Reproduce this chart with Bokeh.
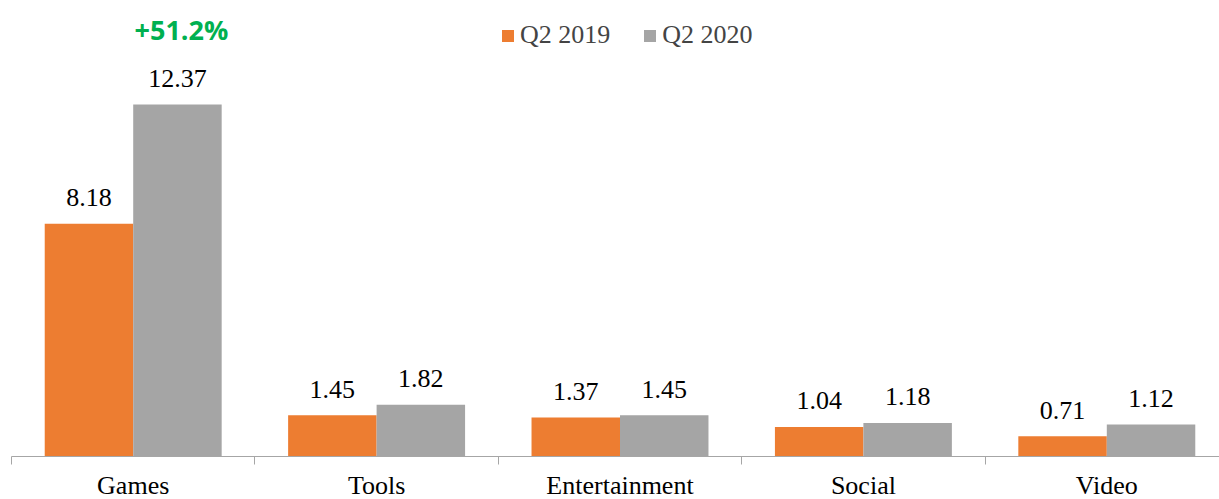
from bokeh.plotting import figure
from bokeh.models import Range1d, FixedTicker, Legend, LegendItem, ColumnDataSource, LinearAxis
from bokeh.core.properties import value
from bokeh.embed import file_html
from bokeh.resources import INLINE

categories = ["Games", "Tools", "Entertainment", "Social", "Video"]
q2_2019 = [8.18, 1.45, 1.37, 1.04, 0.71]
q2_2020 = [12.37, 1.82, 1.45, 1.18, 1.12]
series_names = ["Q2 2019", "Q2 2020"]
growth_label = "+51.2%"

BW = 0.3635
centers = [i + 0.5 for i in range(len(categories))]

p = figure(frame_width=1208, frame_height=448, output_backend="svg", toolbar_location=None,
           x_range=Range1d(0, 1208 / 243.4), y_range=Range1d(0, 448 / 28.46),
           min_border_left=11, min_border_right=0, min_border_top=8, min_border_bottom=0,
           x_axis_location=None, y_axis_location=None)
p.outline_line_color = None
p.grid.visible = False

src1 = ColumnDataSource(dict(x=[c - BW / 2 for c in centers], top=q2_2019, lab=[f"{v:.2f}" for v in q2_2019]))
src2 = ColumnDataSource(dict(x=[c + BW / 2 for c in centers], top=q2_2020, lab=[f"{v:.2f}" for v in q2_2020]))

r1 = p.vbar(x="x", top="top", width=BW, source=src1, fill_color="#ED7D31", line_color=None)
r2 = p.vbar(x="x", top="top", width=BW, source=src2, fill_color="#A5A5A5", line_color=None)

for s in (src1, src2):
    p.text(x="x", y="top", text="lab", source=s, text_align="center", text_baseline="alphabetic",
           y_offset=-26, text_font=value("Liberation Serif"), text_font_size="26px", text_color="#000000")

p.text(x=[centers[0] + BW / 2], y=[q2_2020[0]], text=[growth_label], text_align="center",
       text_baseline="alphabetic", x_offset=4, y_offset=-75, text_font=value("Open Sans"),
       text_font_style="bold", text_font_size="27px", text_color="#00B050")

ax = LinearAxis()
ax.ticker = FixedTicker(ticks=centers, minor_ticks=list(range(len(categories) + 1)))
ax.major_label_overrides = {c: n for c, n in zip(centers, categories)}
ax.major_tick_out = 0
ax.major_tick_in = 0
ax.minor_tick_out = 8
ax.minor_tick_in = 0
ax.minor_tick_line_color = "#A6A6A6"
ax.axis_line_color = "#A6A6A6"
ax.axis_line_width = 1
ax.major_label_text_font = "Liberation Serif"
ax.major_label_text_font_size = "26px"
ax.major_label_text_color = "#000000"
ax.major_label_standoff = 6
p.add_layout(ax, "below")

legend = Legend(items=[LegendItem(label=series_names[0], renderers=[r1]),
                       LegendItem(label=series_names[1], renderers=[r2])],
                orientation="horizontal", location=(489, 406),
                glyph_width=15, glyph_height=15, label_standoff=5, spacing=32,
                label_text_font="Liberation Serif", label_text_font_size="26px",
                padding=0, margin=0, border_line_color=None, background_fill_alpha=0)
p.add_layout(legend, "center")

open("out.html", "w").write(file_html(p, INLINE))
